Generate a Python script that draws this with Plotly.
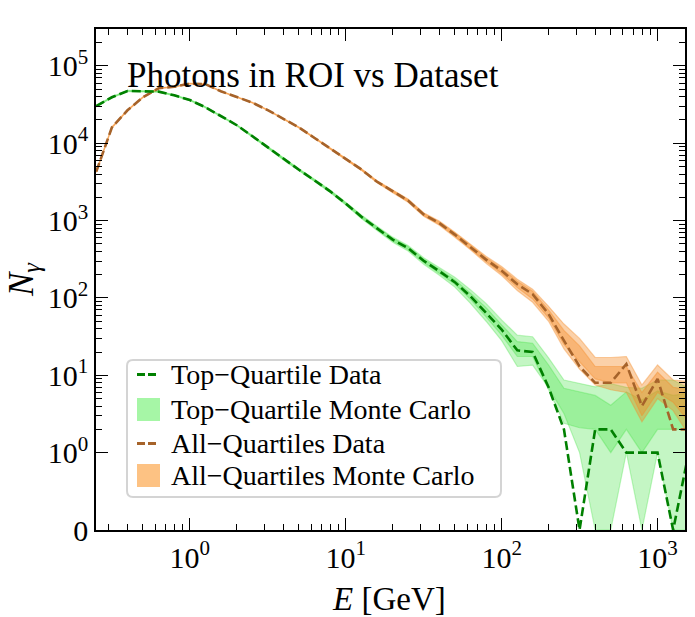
import math
import plotly.graph_objects as go

# ---------------- data ----------------
energy_gev = [0.251, 0.316, 0.398, 0.501, 0.631, 0.794, 1.0, 1.26, 1.58, 2.0,
              2.51, 3.16, 3.98, 5.01, 6.31, 7.94, 10.0, 12.6, 15.8, 20.0,
              25.1, 31.6, 39.8, 50.1, 63.1, 79.4, 100.0, 126.0, 158.0, 200.0,
              251.0, 316.0, 398.0, 501.0, 631.0, 794.0, 1000.0, 1259.0, 1585.0]

top_data = [30300, 39300, 47400, 47000, 46500, 41700, 36200, 29200, 22500, 17100,
            12400, 8830, 6230, 4540, 3310, 2390, 1660, 1120, 800, 568,
            440, 302, 222, 160, 105, 65, 39, 21, 20, 7,
            2, 0, 2, 2, 1, 1, 1, 0, 1]
top_mc_lo2 = [29700, 38600, 46600, 46200, 45700, 41000, 35600, 28700, 22100, 16800,
              12150, 8630, 6070, 4400, 3200, 2300, 1590, 1060, 750, 525,
              405, 272, 197, 138, 85, 50, 28, 13, 13.5, 6.9,
              3.2, 1, 0, 0, 1, 0, 1, 0, 0]
top_mc_lo1 = [30000, 38950, 47000, 46600, 46100, 41350, 35900, 28950, 22300, 16950,
              12280, 8730, 6150, 4470, 3250, 2345, 1625, 1090, 775, 546,
              422, 287, 209, 150, 96, 57, 33, 17.5, 17.5, 6.5,
              2.4, 2.1, 2, 1, 2, 1, 2, 2, 2]
top_mc_hi1 = [30600, 39650, 47800, 47400, 46900, 42050, 36500, 29450, 22700, 17250,
              12520, 8930, 6310, 4610, 3370, 2435, 1695, 1150, 825, 590,
              458, 317, 235, 172, 115, 75, 45, 27.3, 26, 13.6,
              6.8, 6.1, 5.5, 4.1, 6.1, 4.8, 6.3, 5.5, 5.9]
top_mc_hi2 = [30900, 40000, 48200, 47800, 47300, 42400, 36800, 29700, 22900, 17400,
              12650, 9030, 6390, 4680, 3420, 2480, 1730, 1180, 850, 611,
              475, 332, 247, 185, 128, 85, 52, 33, 31.5, 16.8,
              8.7, 7.8, 7.1, 7.8, 7.0, 6.8, 8.7, 8.7, 6.8]

all_data = [4300, 16000, 26700, 39400, 51400, 53700, 59100, 57900, 47000, 39500,
            33600, 26800, 20700, 16000, 11700, 8580, 6310, 4580, 3200, 2380,
            1815, 1200, 929, 659, 460, 313, 225, 150, 112, 62,
            28, 13, 8, 8, 14, 4, 9, 2, 2]
all_mc_lo2 = [4200, 15750, 26350, 39000, 50950, 53250, 58600, 57400, 46550, 39100,
              33250, 26500, 20450, 15780, 11520, 8420, 6170, 4460, 3100, 2290,
              1730, 1135, 870, 610, 420, 280, 195, 125, 88, 50,
              22, 12, 7.5, 6.5, 6, 2.5, 5, 3.5, 1.7]
all_mc_lo1 = [4250, 15870, 26520, 39200, 51170, 53470, 58850, 57650, 46770, 39300,
              33420, 26650, 20570, 15890, 11610, 8500, 6240, 4520, 3150, 2335,
              1770, 1165, 898, 633, 438, 295, 207, 136, 97, 55,
              25, 15, 9, 8, 8, 3, 6, 4.5, 2.5]
all_mc_hi1 = [4350, 16130, 26880, 39600, 51630, 53930, 59350, 58150, 47230, 39700,
              33780, 26950, 20830, 16110, 11790, 8660, 6380, 4640, 3250, 2425,
              1860, 1235, 960, 685, 482, 330, 243, 164, 122, 70,
              38, 24, 13, 13, 13, 6, 11, 7, 6.5]
all_mc_hi2 = [4400, 16250, 27050, 39800, 51850, 54150, 59600, 58400, 47450, 39900,
              33950, 27100, 20950, 16220, 11880, 8740, 6450, 4700, 3300, 2470,
              1900, 1265, 990, 710, 500, 346, 255, 175, 130, 78,
              46, 30, 17, 17, 17.5, 7.5, 13.6, 8.7, 8.3]

x_major = [1, 10, 100, 1000]
x_major_text = ["10<sup>0</sup>", "10<sup>1</sup>", "10<sup>2</sup>", "10<sup>3</sup>"]
y_major = [0, 1, 10, 100, 1000, 10000, 100000]
y_major_text = ["0", "10<sup>0</sup>", "10<sup>1</sup>", "10<sup>2</sup>",
                "10<sup>3</sup>", "10<sup>4</sup>", "10<sup>5</sup>"]
x_range = [0.25, 1500]
y_max = 3.0e5

legend_labels = ["Top−Quartile Data", "Top−Quartile Monte Carlo",
                 "All−Quartiles Data", "All−Quartiles Monte Carlo"]
title_text = "Photons in ROI vs Dataset"


# symlog-like scale (linear below 1, log above)
def sl(v):
    return v if v <= 1 else 1 + math.log10(v)


FONT = "Liberation Serif"
GREEN = "#008000"
BROWN = "#a6632a"
GREEN_FILL = "rgba(60,225,60,0.30)"
ORANGE_FILL = "rgba(245,140,40,0.40)"
GREEN_PATCH = "#a6f6a6"
ORANGE_PATCH = "#fdc283"

W, H = 695, 617
ML, MR, MT, MB = 96, 10, 29, 87
PW, PH = W - ML - MR, H - MT - MB


def px(x):
    return (x - ML) / PW


def py(y):
    return (H - MB - y) / PH


fig = go.Figure()


def band(lo, hi, color):
    xs = energy_gev + energy_gev[::-1]
    ys = [sl(v) for v in hi] + [sl(v) for v in lo][::-1]
    fig.add_trace(go.Scatter(x=xs, y=ys, mode="lines", fill="toself",
                             fillcolor=color, line=dict(color=color, width=1.2),
                             showlegend=False, hoverinfo="skip"))


band(top_mc_lo2, top_mc_hi2, GREEN_FILL)
band(top_mc_lo1, top_mc_hi1, GREEN_FILL)
band(all_mc_lo2, all_mc_hi2, ORANGE_FILL)
band(all_mc_lo1, all_mc_hi1, ORANGE_FILL)

fig.add_trace(go.Scatter(x=energy_gev, y=[sl(v) for v in all_data], mode="lines",
                         line=dict(color=BROWN, width=2.6, dash="9px,4px"),
                         name=legend_labels[2], showlegend=False))
fig.add_trace(go.Scatter(x=energy_gev, y=[sl(v) for v in top_data], mode="lines",
                         line=dict(color=GREEN, width=2.6, dash="9px,4px"),
                         name=legend_labels[0], showlegend=False))

# invisible anchors so that the extra tick axes are drawn
for xa, ya in [("x2", "y"), ("x3", "y"), ("x4", "y"), ("x", "y2"), ("x", "y3"), ("x", "y4")]:
    fig.add_trace(go.Scatter(x=[energy_gev[0]], y=[sl(top_data[0])], xaxis=xa, yaxis=ya,
                             mode="markers", marker=dict(opacity=0), showlegend=False,
                             hoverinfo="skip"))

x_minor = []
for k in range(-1, 4):
    for m in range(2, 10):
        v = m * 10 ** k
        if x_range[0] <= v <= x_range[1]:
            x_minor.append(v)
y_minor = []
for k in range(0, 6):
    for m in range(2, 10):
        v = m * 10 ** k
        if v <= y_max:
            y_minor.append(sl(v))

xr = [math.log10(x_range[0]), math.log10(x_range[1])]
yr = [0, sl(y_max)]
tickfont = dict(family=FONT, size=30, color="black")
base = dict(ticks="inside", tickcolor="black", showgrid=False, zeroline=False)
MAJ = dict(ticklen=12, tickwidth=1.4)
MIN = dict(ticklen=6, tickwidth=1.2)

layout_axes = dict(
    xaxis=dict(type="log", range=xr, tickmode="array", tickvals=x_major, ticktext=x_major_text,
               showline=True, linecolor="black", linewidth=1.6,
               tickfont=tickfont, **MAJ, **base),
    xaxis2=dict(type="log", range=xr, overlaying="x", anchor="y", side="top",
                tickmode="array", tickvals=x_major, showticklabels=False,
                showline=True, linecolor="black", linewidth=1.6, **MAJ, **base),
    xaxis3=dict(type="log", range=xr, overlaying="x", anchor="y", side="bottom",
                tickmode="array", tickvals=x_minor, showticklabels=False,
                showline=False, **MIN, **base),
    xaxis4=dict(type="log", range=xr, overlaying="x", anchor="y", side="top",
                tickmode="array", tickvals=x_minor, showticklabels=False,
                showline=False, **MIN, **base),
    yaxis=dict(range=yr, tickmode="array", tickvals=[sl(v) for v in y_major],
               ticktext=y_major_text, showline=True, linecolor="black", linewidth=1.6,
               tickfont=tickfont, **MAJ, **base),
    yaxis2=dict(range=yr, overlaying="y", anchor="x", side="right", tickmode="array",
                tickvals=[sl(v) for v in y_major], showticklabels=False,
                showline=True, linecolor="black", linewidth=1.6, **MAJ, **base),
    yaxis3=dict(range=yr, overlaying="y", anchor="x", side="left", tickmode="array",
                tickvals=y_minor, showticklabels=False, showline=False, **MIN, **base),
    yaxis4=dict(range=yr, overlaying="y", anchor="x", side="right", tickmode="array",
                tickvals=y_minor, showticklabels=False, showline=False, **MIN, **base),
)

annotations = [
    dict(text=title_text, x=px(125), y=py(75), xanchor="left", yanchor="middle",
         font=dict(family=FONT, size=35, color="black")),
    dict(text="<i>E</i> [GeV]", x=px(389), y=py(599), xanchor="center", yanchor="middle",
         font=dict(family=FONT, size=33, color="black")),
    dict(text="<i>N<sub>γ</sub></i>", x=px(23), y=py(280), xanchor="center", yanchor="middle",
         textangle=-90, font=dict(family=FONT, size=35, color="black")),
]

# legend (box, symbols, labels)
lx0, lx1, ly0, ly1, rad = 127, 501, 360, 497, 6
rx, ry = rad / PW, rad / PH
X0, X1, Y0, Y1 = px(lx0), px(lx1), py(ly1), py(ly0)
box_path = (f"M {X0 + rx},{Y0} L {X1 - rx},{Y0} Q {X1},{Y0} {X1},{Y0 + ry} "
            f"L {X1},{Y1 - ry} Q {X1},{Y1} {X1 - rx},{Y1} L {X0 + rx},{Y1} "
            f"Q {X0},{Y1} {X0},{Y1 - ry} L {X0},{Y0 + ry} Q {X0},{Y0} {X0 + rx},{Y0} Z")
shapes = [dict(type="path", xref="paper", yref="paper", path=box_path,
               fillcolor="rgba(255,255,255,0.9)", line=dict(color="#d4d4d4", width=2),
               layer="above")]
row_y = [374.5, 409.5, 443.5, 475.5]
sym_colors = [GREEN, GREEN_PATCH, BROWN, ORANGE_PATCH]
for i, (lab, yy, col) in enumerate(zip(legend_labels, row_y, sym_colors)):
    if i % 2 == 0:
        shapes.append(dict(type="line", xref="paper", yref="paper", x0=px(137), x1=px(159),
                           y0=py(yy), y1=py(yy), line=dict(color=col, width=3, dash="8px,3px"),
                           layer="above"))
    else:
        shapes.append(dict(type="rect", xref="paper", yref="paper", x0=px(137), x1=px(160),
                           y0=py(yy + 11.5), y1=py(yy - 11.5), fillcolor=col,
                           line=dict(width=0), layer="above"))
    annotations.append(dict(text=lab, x=px(169), y=py(yy), xanchor="left", yanchor="middle",
                            font=dict(family=FONT, size=28, color="black")))

for a in annotations:
    a.update(xref="paper", yref="paper", showarrow=False)

fig.update_layout(
    width=W, height=H,
    margin=dict(l=ML, r=MR, t=MT, b=MB, autoexpand=False),
    paper_bgcolor="white", plot_bgcolor="white",
    showlegend=False,
    annotations=annotations,
    shapes=shapes,
    **layout_axes,
)

fig.write_html("out.html", post_script="document.body.style.margin='0px';",
               config={"displayModeBar": False})
